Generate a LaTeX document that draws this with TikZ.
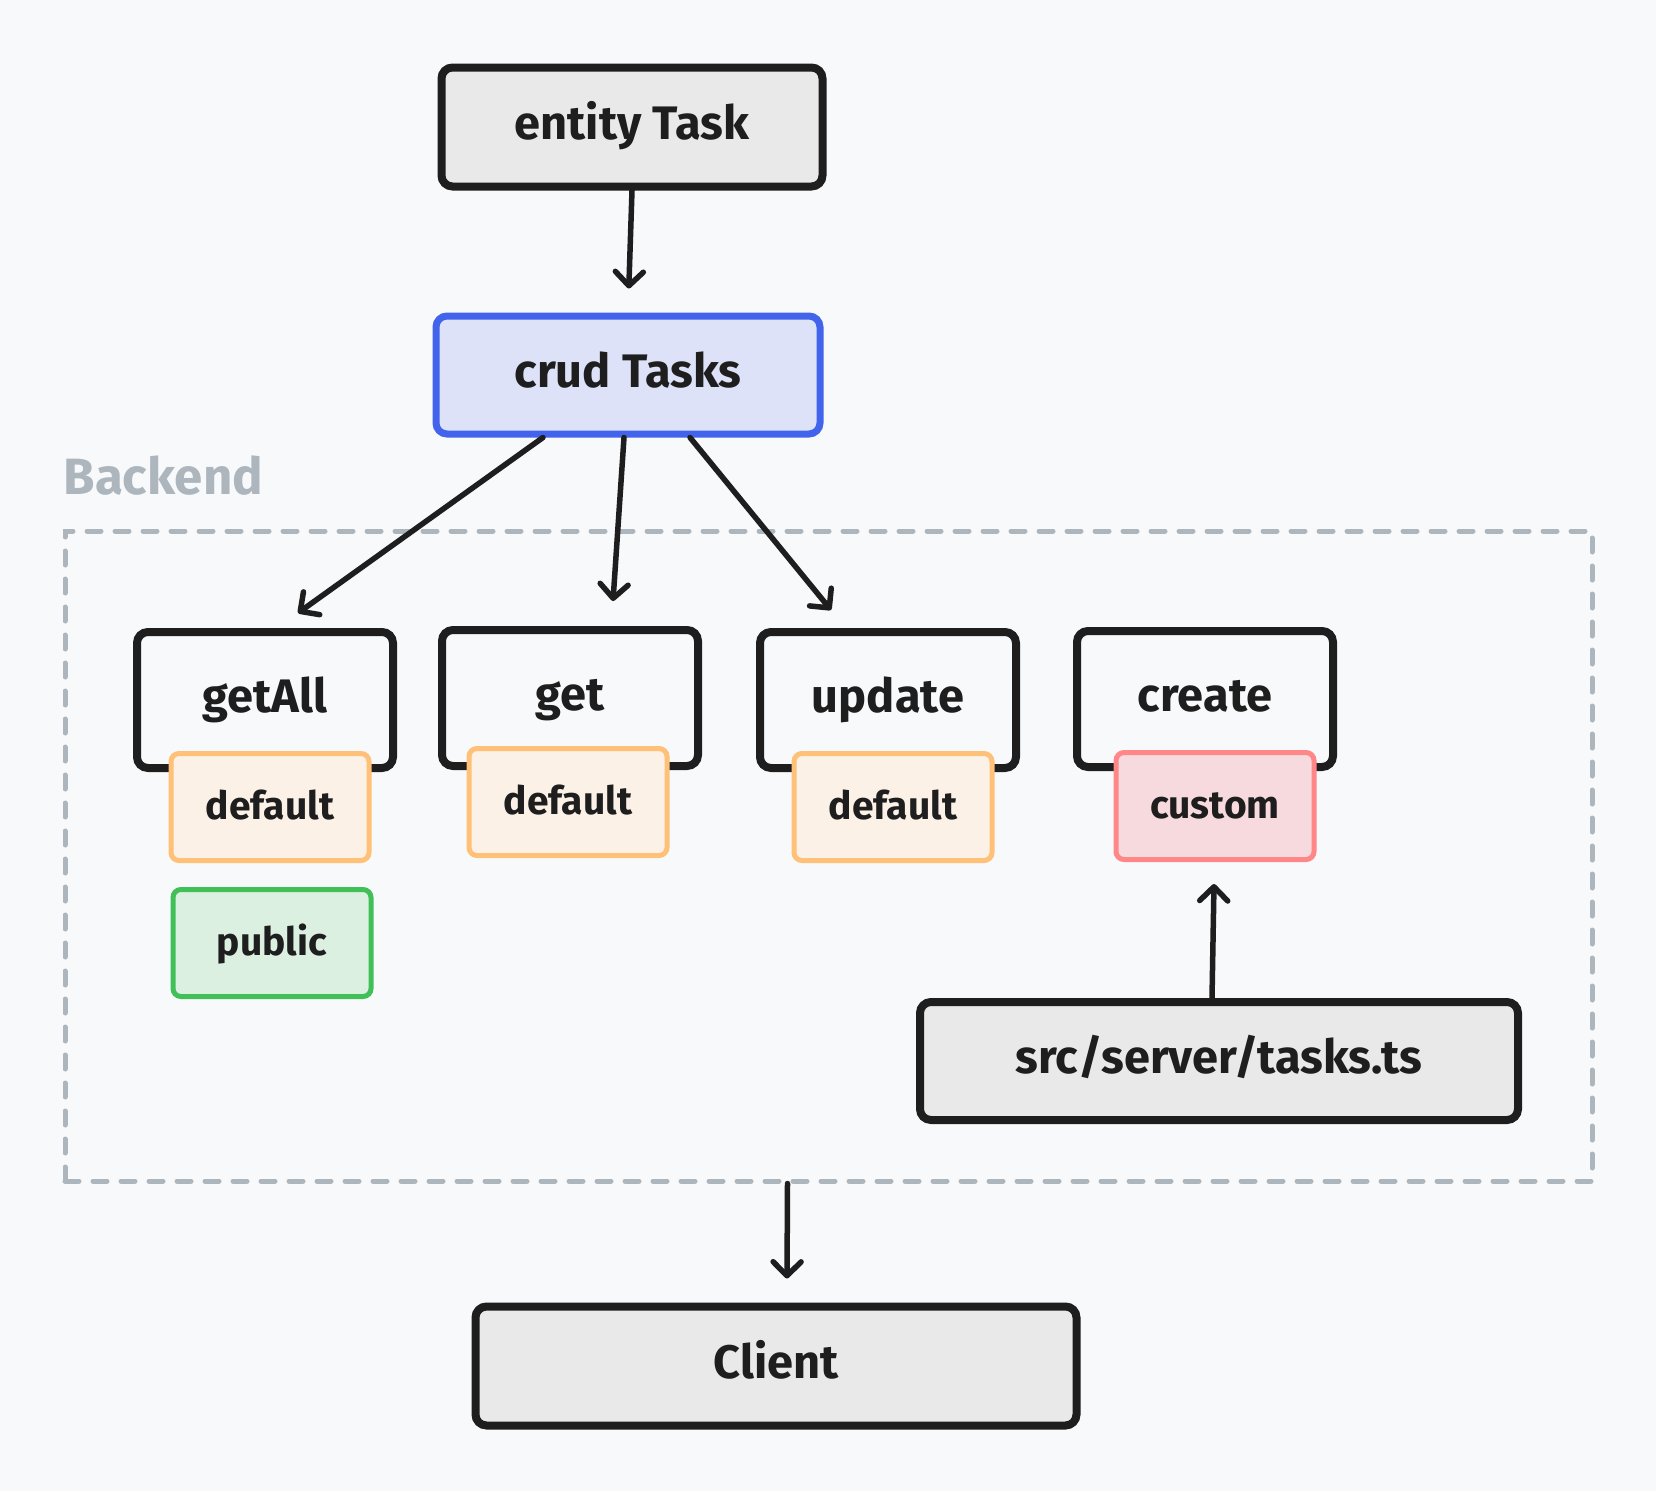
\documentclass[tikz,border=0pt]{standalone}
\usepackage{fontspec}
\setmainfont{Fira Sans}
\usetikzlibrary{arrows.meta}

\definecolor{pagebg}{HTML}{F8F9FB}
\definecolor{ink}{HTML}{1E1E1E}
\definecolor{boxgray}{HTML}{E9E9E9}
\definecolor{crudline}{HTML}{4263EB}
\definecolor{crudfill}{HTML}{DEE2F8}
\definecolor{defline}{HTML}{FFC078}
\definecolor{deffill}{HTML}{FBF1E7}
\definecolor{publine}{HTML}{40C057}
\definecolor{pubfill}{HTML}{DCF0E1}
\definecolor{custline}{HTML}{FF8787}
\definecolor{custfill}{HTML}{F7DADD}
\definecolor{zonegray}{HTML}{ADB5BD}

\tikzset{
    mainbox/.style={draw=ink, line width=8pt, rounded corners=11pt, fill=boxgray,
        font=\fontsize{47}{52}\selectfont\bfseries, text=ink,
        text height=34pt, text depth=9pt},
    crudbox/.style={mainbox, draw=crudline, line width=7pt, fill=crudfill,
        minimum width=384pt, minimum height=118pt},
    opbox/.style={mainbox, fill=pagebg, minimum width=256pt, minimum height=136pt},
    tagbox/.style={line width=5pt, rounded corners=8pt, minimum width=198pt, minimum height=107pt,
        font=\fontsize{39}{44}\selectfont\bfseries, text=ink,
        text height=30pt, text depth=6pt},
    deftag/.style={tagbox, draw=defline, fill=deffill},
    pubtag/.style={tagbox, draw=publine, fill=pubfill},
    custtag/.style={tagbox, draw=custline, fill=custfill},
    arr/.style={line width=5.5pt, line cap=round, color=ink,
        -{Straight Barb[length=14pt, width=28pt, line join=round, line cap=round]}},
}

\begin{document}
\begin{tikzpicture}[x=1pt, y=-1pt]
    \useasboundingbox[fill=pagebg] (0,0) rectangle (1656,1491);

    % backend zone
    \node[draw=zonegray, line width=5pt, line cap=round, dash pattern=on 14pt off 14pt,
        minimum width=1527pt, minimum height=650pt] (backend) at (828.5,856) {};
    \node[anchor=west, text=zonegray, font=\fontsize{51}{56}\selectfont\bfseries]
        (backendlbl) at (60,476) {Backend};

    % top
    \node[mainbox, minimum width=381pt, minimum height=119pt] (entity) at (632,127) {entity Task};
    \node[crudbox] (crud) at (628,375) {crud Tasks};

    % operations
    \node[opbox] (getAll) at (265,700) {getAll};
    \node[opbox] (get) at (570,698) {get};
    \node[opbox] (update) at (888,700) {update};
    \node[opbox] (create) at (1205,699) {create};

    \node[deftag] (defA) at (270,807) {default};
    \node[pubtag] (pubA) at (272,943) {public};
    \node[deftag] (defB) at (568,802) {default};
    \node[deftag] (defC) at (893,807) {default};
    \node[custtag] (custD) at (1215,806) {custom};

    \node[mainbox, minimum width=598pt, minimum height=118pt] (src) at (1219,1061) {src/server/tasks.ts};
    \node[mainbox, minimum width=601pt, minimum height=119pt] (client) at (776,1366) {Client};

    % arrows
    \draw[arr, shorten >=24pt] (entity.south) -- (crud.north);
    \draw[arr] ([xshift=-85]crud.south) -- ([xshift=33,yshift=15]getAll.north);
    \draw[arr] ([xshift=-4]crud.south) -- ([xshift=43,yshift=25]get.north);
    \draw[arr] ([xshift=62]crud.south) -- ([xshift=-57,yshift=18]update.north);
    \draw[arr] ([xshift=-7]src.north) -- ([xshift=-1,yshift=-22]custD.south);
    \draw[arr] ([xshift=-41]backend.south) -- ([xshift=11,yshift=24]client.north);
\end{tikzpicture}
\end{document}
